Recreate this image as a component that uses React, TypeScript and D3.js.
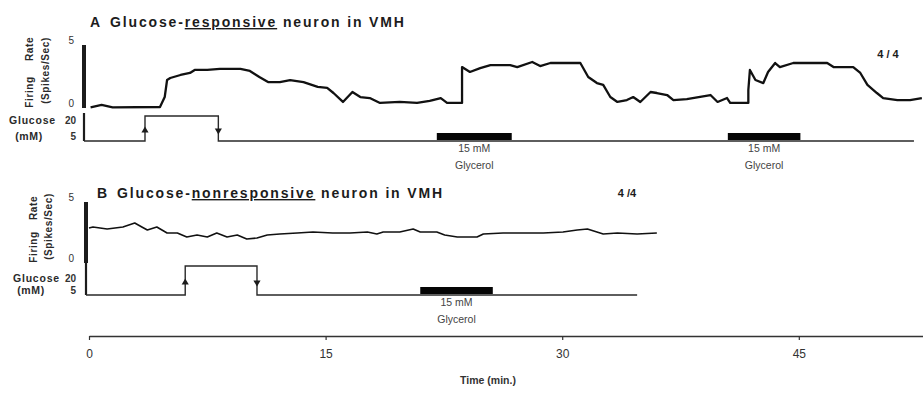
import React, { useEffect, useRef } from 'react'
import * as d3 from 'd3'

// Panel A ratemeter trace: time (min) and firing rate (spikes/sec)
const traceATime = [0.1, 0.8, 1.5, 4.5, 4.8, 4.95, 5.15, 5.8, 6.4, 6.7, 7.5, 8.3, 9.6, 10.2, 10.8, 11.35, 12.1, 12.75, 13.6, 14.5, 15.1, 15.5, 16.1, 16.7, 17.2, 17.8, 18.45, 19.7, 20.8, 21.6, 22.3, 22.7, 23.65,
  23.65, 24.15, 24.8, 25.45, 26.7, 27.15, 28.1, 28.6, 29.25, 31.15, 31.65, 32.2, 32.6, 33.05, 33.5, 34.1, 34.5, 34.95, 35.6, 36.0, 36.65, 37.05, 37.9, 39.4, 39.85, 40.45, 40.65, 41.8,
  41.8, 41.9, 42.25, 42.75, 43.05, 43.5, 43.8, 44.65, 45.7, 46.8, 47.2, 48.45, 48.9, 49.35, 49.95, 50.35, 51.25, 52.05, 52.8]
const traceARate = [0.05, 0.24, 0.05, 0.08, 0.87, 2.22, 2.38, 2.62, 2.78, 3.02, 3.02, 3.1, 3.1, 2.94, 2.46, 2.06, 2.06, 2.22, 2.06, 1.67, 1.59, 1.19, 0.48, 1.27, 0.87, 0.79, 0.4, 0.48, 0.4, 0.56, 0.79, 0.4, 0.4,
  3.25, 2.86, 3.17, 3.41, 3.41, 3.25, 3.65, 3.33, 3.57, 3.57, 2.46, 1.98, 1.83, 0.87, 0.48, 0.63, 0.87, 0.48, 1.27, 1.19, 1.03, 0.63, 0.71, 1.03, 0.48, 0.79, 0.4, 0.4,
  1.43, 3.02, 2.22, 1.98, 2.86, 3.57, 3.25, 3.57, 3.57, 3.57, 3.25, 3.25, 2.78, 1.83, 1.19, 0.79, 0.63, 0.63, 0.79]

// Panel B ratemeter trace
const traceBTime = [0, 0.25, 1.15, 2.15, 2.9, 3.35, 3.7, 4.3, 4.95, 5.6, 6.2, 6.85, 7.5, 8.1, 8.75, 9.4, 10.0, 10.65, 11.3, 12.1, 13.2, 14.2, 15.45, 16.55, 17.65, 18.25, 18.65, 19.7, 20.55, 21.0, 22.05, 22.55, 23.35, 24.6, 25.0, 26.25, 27.5, 28.8, 30.05, 30.95, 31.6, 32.2, 32.6, 33.5, 34.75, 36.0]
const traceBRate = [2.87, 2.95, 2.79, 2.95, 3.28, 2.95, 2.7, 2.95, 2.46, 2.46, 2.13, 2.3, 2.13, 2.46, 2.13, 2.3, 1.97, 2.05, 2.3, 2.38, 2.46, 2.54, 2.46, 2.46, 2.54, 2.38, 2.54, 2.54, 2.79, 2.54, 2.54, 2.3, 2.13, 2.13, 2.38, 2.46, 2.46, 2.46, 2.54, 2.7, 2.79, 2.54, 2.38, 2.46, 2.38, 2.46]

// glucose protocol: time of each change (min) and level from then on (mM)
const glucoseATime = [0, 3.55, 8.2, 52.3]
const glucoseALevel = [5, 20, 5, 5]
const glucoseBTime = [0, 6.1, 10.65, 34.75]
const glucoseBLevel = [5, 20, 5, 5]

// 15 mM glycerol windows (min)
const glycerolA = [[22.05, 26.8], [40.5, 45.1]]
const glycerolB = [[21.0, 25.6]]

const timeTicks = [0, 15, 30, 45]
const rateTicks = [0, 5]
const glucoseTicks = [20, 5]

const App: React.FC = () => {
    const chartRef = useRef<SVGSVGElement | null>(null)

    useEffect(() => {
        if (!chartRef.current) return
        const svg = d3.select(chartRef.current)
        svg.selectAll('*').remove()

        const font = "'Liberation Sans', Arial, sans-serif"
        const narrow = "'Liberation Sans Narrow', 'Liberation Sans', Arial, sans-serif"
        const ink = '#1c1c1c'

        const x = d3.scaleLinear().domain([0, 53]).range([89, 925])

        const panels = [
            {
                letter: 'A', pre: 'Glucose-', hl: 'responsive', letterX: 90, titleX: 110, titleY: 27,
                n: '4 / 4', nX: 888, nY: 58,
                rate: d3.scaleLinear().domain([0, 5]).range([108, 45]),
                glu: d3.scaleLinear().domain([5, 20]).range([141, 116]),
                axisX: 84, gluRows: [124, 140], gluWordX: 56, mmX: 29, col1: 29, col2: 45, rateTop: 0,
                time: traceATime, values: traceARate, gTime: glucoseATime, gLevel: glucoseALevel,
                glycerol: glycerolA, width: 2.3
            },
            {
                letter: 'B', pre: 'Glucose-', hl: 'nonresponsive', letterX: 97, titleX: 117, titleY: 198,
                n: '4 /4', nX: 627, nY: 197,
                rate: d3.scaleLinear().domain([0, 5]).range([263, 202]),
                glu: d3.scaleLinear().domain([5, 20]).range([295, 266]),
                axisX: 86, gluRows: [282, 294], gluWordX: 60, mmX: 31, col1: 33, col2: 48, rateTop: 2,
                time: traceBTime, values: traceBRate, gTime: glucoseBTime, gLevel: glucoseBLevel,
                glycerol: glycerolB, width: 1.6
            }
        ]

        panels.forEach(p => {
            const g = svg.append('g')

            // title
            g.append('text')
                .attr('x', p.letterX).attr('y', p.titleY)
                .attr('font-family', font).attr('font-size', 14).attr('font-weight', 'bold')
                .attr('fill', ink)
                .text(p.letter)
            const title = g.append('text')
                .attr('x', p.titleX).attr('y', p.titleY)
                .attr('font-family', font).attr('font-size', 14).attr('font-weight', 'bold')
                .attr('letter-spacing', 1.85)
                .attr('fill', ink)
            title.append('tspan').text(p.pre)
            title.append('tspan').attr('text-decoration', 'underline').text(p.hl)
            title.append('tspan').text(' neuron in VMH')

            g.append('text')
                .attr('x', p.nX).attr('y', p.nY).attr('text-anchor', 'middle')
                .attr('font-family', font).attr('font-size', 11).attr('font-weight', 'bold')
                .attr('fill', ink)
                .text(p.n)

            // firing rate axis
            g.append('line')
                .attr('x1', p.axisX).attr('x2', p.axisX)
                .attr('y1', p.rate(0)).attr('y2', p.rate(5))
                .attr('stroke', ink).attr('stroke-width', 4)

            g.selectAll('.rate-tick')
                .data(rateTicks)
                .join('text')
                .attr('class', 'rate-tick')
                .attr('x', 74).attr('y', d => p.rate(d) - 1)
                .attr('text-anchor', 'end')
                .attr('font-family', font).attr('font-size', 10).attr('fill', '#333')
                .text(d => d)

            const rotLabel = (txt: string, cx: number, cy: number) => {
                g.append('text')
                    .attr('transform', `translate(${cx},${cy}) rotate(-90)`)
                    .attr('text-anchor', 'middle').attr('dominant-baseline', 'central')
                    .attr('font-family', font).attr('font-size', 10).attr('font-weight', 'bold')
                    .attr('letter-spacing', 0.6)
                    .attr('fill', '#2a2a2a')
                    .text(txt)
            }
            rotLabel('Rate', p.col1, p.rate(5) + p.rateTop + 4)
            rotLabel('Firing', p.col1, p.rate(0) - 16)
            rotLabel('(Spikes/Sec)', p.col2, (p.rate(0) + p.rate(5)) / 2 - 6)

            // glucose axis labels
            g.append('text')
                .attr('x', p.gluWordX).attr('y', p.gluRows[0]).attr('text-anchor', 'end')
                .attr('font-family', font).attr('font-size', 10.5).attr('font-weight', 'bold')
                .attr('letter-spacing', 0.8).attr('fill', '#2a2a2a')
                .text('Glucose')
            g.append('text')
                .attr('x', p.mmX).attr('y', p.gluRows[1]).attr('text-anchor', 'middle')
                .attr('font-family', font).attr('font-size', 10.5).attr('font-weight', 'bold')
                .attr('letter-spacing', 0.6).attr('fill', '#2a2a2a')
                .text('(mM)')
            g.selectAll('.glu-tick')
                .data(glucoseTicks)
                .join('text')
                .attr('class', 'glu-tick')
                .attr('x', 76).attr('y', (d, i) => p.gluRows[i])
                .attr('text-anchor', 'end')
                .attr('font-family', font).attr('font-size', 10).attr('font-weight', 'bold')
                .attr('fill', '#333')
                .text(d => d)

            // glucose protocol line
            g.append('line')
                .attr('x1', p.axisX).attr('x2', p.axisX)
                .attr('y1', p.glu(20) - 3).attr('y2', p.glu(5))
                .attr('stroke', ink).attr('stroke-width', 2.2)

            const gluPts: [number, number][] = [[p.axisX, p.glu(p.gLevel[0])]]
            p.gTime.forEach((t, i) => gluPts.push([x(t), p.glu(p.gLevel[i])]))
            g.append('path')
                .attr('d', d3.line().curve(d3.curveStepAfter)(gluPts))
                .attr('fill', 'none').attr('stroke', '#2a2a2a').attr('stroke-width', 1.4)

            // arrowheads on the glucose steps
            p.gTime.forEach((t, i) => {
                if (i === 0 || p.gLevel[i] === p.gLevel[i - 1]) return
                const up = p.gLevel[i] > p.gLevel[i - 1]
                const my = (p.glu(p.gLevel[i]) + p.glu(p.gLevel[i - 1])) / 2 + 2
                g.append('path')
                    .attr('d', d3.symbol().type(d3.symbolTriangle).size(22)())
                    .attr('transform', `translate(${x(t)},${my}) rotate(${up ? 0 : 180})`)
                    .attr('fill', ink)
            })

            // glycerol bars and labels
            p.glycerol.forEach(([t0, t1]) => {
                g.append('rect')
                    .attr('x', x(t0)).attr('width', x(t1) - x(t0))
                    .attr('y', p.glu(5) - 8).attr('height', 7)
                    .attr('fill', '#050505')
                const cx = (x(t0) + x(t1)) / 2
                g.append('text')
                    .attr('x', cx).attr('y', p.glu(5) + 11).attr('text-anchor', 'middle')
                    .attr('font-family', narrow).attr('font-size', 10.5).attr('fill', '#444')
                    .text('15 mM')
                g.append('text')
                    .attr('x', cx).attr('y', p.glu(5) + 28).attr('text-anchor', 'middle')
                    .attr('font-family', narrow).attr('font-size', 10.5).attr('fill', '#444')
                    .text('Glycerol')
            })

            // firing rate trace
            const line = d3.line<number>()
                .x((_, i) => x(p.time[i]))
                .y(d => p.rate(d))
            g.append('path')
                .attr('d', line(p.values))
                .attr('fill', 'none').attr('stroke', '#111')
                .attr('stroke-width', p.width).attr('stroke-linejoin', 'round')
        })

        // shared time axis
        svg.append('g')
            .attr('transform', 'translate(0,336)')
            .call(d3.axisBottom(x).tickValues(timeTicks).tickSize(4).tickPadding(9).tickSizeOuter(0))
            .call(a => a.select('.domain').attr('stroke', '#333').attr('stroke-width', 1.6))
            .call(a => a.selectAll('.tick line').attr('stroke', '#333').attr('stroke-width', 1.2))
            .call(a => a.selectAll('.tick text')
                .attr('fill', '#333').attr('font-size', 12).attr('font-family', narrow))

        svg.append('text')
            .attr('x', 488).attr('y', 384).attr('text-anchor', 'middle')
            .attr('font-family', narrow).attr('font-size', 10.5).attr('font-weight', 'bold')
            .attr('fill', '#333')
            .text('Time (min.)')
    }, [])

    return (
        <svg ref={chartRef} width={923} height={395}
            style={{ position: 'absolute', left: 0, top: 0, background: '#fff' }} />
    )
}

export default App
